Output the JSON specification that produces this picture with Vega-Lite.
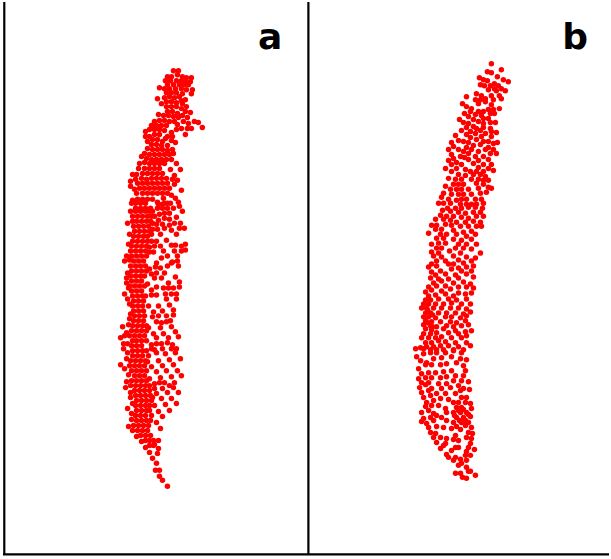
{"$schema":"https://vega.github.io/schema/vega-lite/v6.json","width":611,"height":559,"padding":0,"autosize":{"type":"fit","contains":"padding"},"background":"white","config":{"view":{"stroke":null}},
"datasets":{
"frame":[{"x":4.3,"x2":4.3,"y":0,"y2":555},{"x":309.4,"x2":309.4,"y":0,"y2":555},{"x":3,"x2":611,"y":554.4,"y2":554.4}],
"labels":[{"x":271,"y":47,"t":"a"},{"x":577,"y":47.5,"t":"b"}],
"panelA":[
{"x":174,"y":69},{"x":179,"y":69},{"x":178,"y":73},{"x":168,"y":75},{"x":172,"y":75},{"x":183,"y":75},{"x":187,"y":76},{"x":192,"y":76},{"x":166,"y":79},{"x":171,"y":79},{"x":177,"y":79},{"x":182,"y":79},{"x":186,"y":80},{"x":191,"y":80},{"x":168,"y":83},{"x":174,"y":83},{"x":180,"y":83},{"x":185,"y":83},{"x":189,"y":83},{"x":160,"y":86},{"x":165,"y":87},{"x":170,"y":87},{"x":176,"y":87},{"x":182,"y":87},{"x":187,"y":88},{"x":193,"y":88},{"x":167,"y":91},{"x":172,"y":91},{"x":177,"y":91},{"x":183,"y":92},{"x":192,"y":92},{"x":158,"y":97},{"x":165,"y":96},{"x":170,"y":95},{"x":175,"y":96},{"x":180,"y":95},{"x":186,"y":98},{"x":182,"y":99},{"x":162,"y":102},{"x":167,"y":100},{"x":172,"y":100},{"x":177,"y":101},{"x":183,"y":102},{"x":187,"y":105},{"x":167,"y":105},{"x":172,"y":105},{"x":177,"y":105},{"x":182,"y":107},{"x":191,"y":111},{"x":186,"y":110},{"x":168,"y":110},{"x":173,"y":110},{"x":178,"y":112},{"x":183,"y":114},{"x":159,"y":113},{"x":164,"y":114},{"x":169,"y":114},{"x":174,"y":115},{"x":179,"y":116},{"x":188,"y":116},{"x":195,"y":120},{"x":199,"y":121},{"x":203,"y":126},{"x":184,"y":120},{"x":155,"y":120},{"x":160,"y":119},{"x":165,"y":119},{"x":170,"y":120},{"x":175,"y":120},{"x":189,"y":122},{"x":178,"y":123},{"x":152,"y":124},{"x":157,"y":124},{"x":162,"y":124},{"x":167,"y":124},{"x":182,"y":127},{"x":188,"y":127},{"x":192,"y":127},{"x":177,"y":128},{"x":150,"y":128},{"x":155,"y":128},{"x":160,"y":128},{"x":165,"y":129},{"x":172,"y":131},{"x":146,"y":130},{"x":186,"y":133},{"x":146,"y":135},{"x":150,"y":135},{"x":155,"y":133},{"x":160,"y":133},{"x":168,"y":135},{"x":173,"y":135},{"x":148,"y":140},{"x":153,"y":138},{"x":158,"y":138},{"x":163,"y":140},{"x":166,"y":137},{"x":172,"y":139},{"x":176,"y":141},{"x":152,"y":143},{"x":157,"y":143},{"x":162,"y":144},{"x":168,"y":144},{"x":148,"y":147},{"x":153,"y":148},{"x":158,"y":148},{"x":163,"y":148},{"x":168,"y":149},{"x":173,"y":148},{"x":145,"y":152},{"x":150,"y":153},{"x":155,"y":153},{"x":160,"y":153},{"x":165,"y":153},{"x":170,"y":153},{"x":174,"y":152},{"x":142,"y":155},{"x":147,"y":157},{"x":152,"y":158},{"x":157,"y":158},{"x":162,"y":158},{"x":167,"y":158},{"x":172,"y":158},{"x":140,"y":162},{"x":145,"y":161},{"x":150,"y":162},{"x":155,"y":162},{"x":160,"y":162},{"x":165,"y":162},{"x":177,"y":162},{"x":139,"y":167},{"x":145,"y":167},{"x":150,"y":167},{"x":155,"y":167},{"x":160,"y":167},{"x":181,"y":168},{"x":171,"y":168},{"x":133,"y":173},{"x":137,"y":173},{"x":143,"y":172},{"x":148,"y":172},{"x":153,"y":172},{"x":158,"y":172},{"x":163,"y":172},{"x":175,"y":174},{"x":136,"y":178},{"x":142,"y":177},{"x":147,"y":178},{"x":152,"y":177},{"x":157,"y":177},{"x":162,"y":177},{"x":167,"y":177},{"x":173,"y":178},{"x":178,"y":179},{"x":131,"y":180},{"x":138,"y":182},{"x":143,"y":182},{"x":148,"y":182},{"x":153,"y":182},{"x":158,"y":182},{"x":163,"y":182},{"x":168,"y":182},{"x":175,"y":183},{"x":131,"y":185},{"x":135,"y":188},{"x":140,"y":187},{"x":145,"y":187},{"x":150,"y":187},{"x":155,"y":187},{"x":160,"y":187},{"x":165,"y":187},{"x":170,"y":187},{"x":182,"y":189},{"x":137,"y":192},{"x":143,"y":192},{"x":148,"y":192},{"x":153,"y":192},{"x":158,"y":192},{"x":163,"y":192},{"x":168,"y":192},{"x":172,"y":194},{"x":133,"y":199},{"x":138,"y":198},{"x":143,"y":198},{"x":148,"y":198},{"x":153,"y":198},{"x":164,"y":197},{"x":176,"y":197},{"x":158,"y":201},{"x":168,"y":202},{"x":179,"y":201},{"x":136,"y":202},{"x":141,"y":202},{"x":146,"y":202},{"x":163,"y":203},
{"x":159,"y":203},{"x":165,"y":202},{"x":171,"y":202},{"x":153,"y":210},{"x":158,"y":207},{"x":163,"y":207},{"x":168,"y":207},{"x":174,"y":207},{"x":180,"y":205},{"x":183,"y":210},{"x":155,"y":215},{"x":160,"y":213},{"x":165,"y":212},{"x":170,"y":212},{"x":177,"y":216},{"x":159,"y":219},{"x":165,"y":217},{"x":170,"y":218},{"x":181,"y":222},{"x":153,"y":222},{"x":157,"y":223},{"x":163,"y":223},{"x":175,"y":222},{"x":185,"y":227},{"x":153,"y":228},{"x":158,"y":228},{"x":165,"y":227},{"x":170,"y":224},{"x":180,"y":227},{"x":152,"y":233},{"x":161,"y":233},{"x":172,"y":229},{"x":177,"y":233},{"x":157,"y":240},{"x":167,"y":239},{"x":150,"y":246},{"x":161,"y":245},{"x":155,"y":245},{"x":172,"y":244},{"x":176,"y":244},{"x":186,"y":243},{"x":182,"y":245},{"x":150,"y":251},{"x":154,"y":251},{"x":164,"y":250},{"x":175,"y":250},{"x":186,"y":249},{"x":182,"y":250},{"x":168,"y":255},{"x":178,"y":255},{"x":157,"y":262},{"x":172,"y":262},{"x":162,"y":257},{"x":178,"y":260},{"x":179,"y":265},{"x":150,"y":268},{"x":156,"y":266},{"x":161,"y":267},{"x":168,"y":265},{"x":173,"y":261},{"x":165,"y":272},{"x":157,"y":272},{"x":152,"y":273},{"x":176,"y":276},{"x":148,"y":283},{"x":162,"y":277},{"x":155,"y":277},{"x":180,"y":281},{"x":169,"y":282},{"x":180,"y":286},{"x":152,"y":289},{"x":157,"y":286},{"x":164,"y":287},{"x":174,"y":287},{"x":169,"y":287},{"x":152,"y":294},{"x":157,"y":294},{"x":166,"y":293},{"x":172,"y":293},{"x":177,"y":293},{"x":177,"y":298},{"x":146,"y":295},{"x":167,"y":298},{"x":149,"y":305},{"x":159,"y":305},{"x":170,"y":304},{"x":154,"y":311},{"x":163,"y":310},{"x":174,"y":309},{"x":174,"y":314},{"x":153,"y":316},{"x":159,"y":315},{"x":167,"y":315},{"x":157,"y":321},{"x":162,"y":322},{"x":171,"y":320},{"x":167,"y":321},{"x":149,"y":327},{"x":161,"y":327},{"x":172,"y":326},{"x":176,"y":331},{"x":154,"y":333},{"x":164,"y":333},{"x":179,"y":336},{"x":169,"y":337},{"x":157,"y":337},{"x":162,"y":343},{"x":152,"y":344},{"x":168,"y":342},{"x":157,"y":343},{"x":173,"y":344},
{"x":132,"y":202},{"x":131,"y":210},{"x":128,"y":222},{"x":133,"y":220},{"x":130,"y":233},{"x":129,"y":243},{"x":127,"y":255},{"x":125,"y":260},{"x":130,"y":259},{"x":128,"y":272},{"x":127,"y":277},{"x":127,"y":282},{"x":125,"y":293},{"x":129,"y":287},{"x":128,"y":298},{"x":130,"y":303},{"x":131,"y":313},{"x":130,"y":318},{"x":129,"y":324},{"x":123,"y":326},{"x":127,"y":332},{"x":121,"y":337},{"x":125,"y":335},{"x":124,"y":343},{"x":124,"y":348},{"x":128,"y":343},{"x":133,"y":340},
{"x":136,"y":207},{"x":141,"y":207},{"x":146,"y":207},{"x":151,"y":207},{"x":136,"y":210},{"x":141,"y":210},{"x":146,"y":210},{"x":150,"y":210},{"x":133,"y":215},{"x":138,"y":215},{"x":143,"y":215},{"x":148,"y":215},{"x":152,"y":215},{"x":137,"y":220},{"x":142,"y":220},{"x":147,"y":220},{"x":151,"y":220},{"x":134,"y":225},{"x":139,"y":225},{"x":144,"y":225},{"x":149,"y":225},{"x":135,"y":230},{"x":140,"y":230},{"x":145,"y":230},{"x":150,"y":230},{"x":134,"y":235},{"x":139,"y":235},{"x":144,"y":235},{"x":148,"y":235},{"x":133,"y":240},{"x":138,"y":240},{"x":143,"y":240},{"x":148,"y":240},{"x":152,"y":240},{"x":132,"y":245},{"x":137,"y":245},{"x":142,"y":245},{"x":147,"y":245},{"x":131,"y":250},{"x":136,"y":250},{"x":141,"y":250},{"x":146,"y":250},{"x":132,"y":255},{"x":137,"y":255},{"x":142,"y":255},{"x":147,"y":255},{"x":134,"y":260},{"x":139,"y":260},{"x":144,"y":260},{"x":131,"y":265},{"x":136,"y":265},{"x":141,"y":265},{"x":146,"y":265},{"x":132,"y":270},{"x":137,"y":270},{"x":142,"y":270},{"x":147,"y":270},{"x":131,"y":275},{"x":136,"y":275},{"x":141,"y":275},{"x":145,"y":275},{"x":132,"y":280},{"x":137,"y":280},{"x":142,"y":280},{"x":130,"y":285},{"x":135,"y":285},{"x":140,"y":285},{"x":145,"y":285},{"x":132,"y":290},{"x":137,"y":290},{"x":142,"y":290},{"x":133,"y":295},{"x":138,"y":295},{"x":143,"y":295},{"x":134,"y":300},{"x":139,"y":300},{"x":144,"y":300},{"x":133,"y":305},{"x":138,"y":305},{"x":143,"y":305},{"x":134,"y":310},{"x":139,"y":310},{"x":144,"y":310},{"x":135,"y":315},{"x":140,"y":315},{"x":145,"y":315},{"x":134,"y":320},{"x":139,"y":320},{"x":144,"y":320},{"x":133,"y":325},{"x":138,"y":325},{"x":143,"y":325},{"x":147,"y":325},{"x":132,"y":330},{"x":137,"y":330},{"x":142,"y":330},{"x":147,"y":330},{"x":130,"y":335},{"x":135,"y":335},{"x":140,"y":335},{"x":145,"y":335},{"x":137,"y":340},{"x":142,"y":340},{"x":147,"y":340},{"x":132,"y":345},{"x":137,"y":345},{"x":142,"y":345},{"x":133,"y":350},{"x":138,"y":350},{"x":143,"y":350},{"x":147,"y":350},{"x":133,"y":355},{"x":138,"y":355},{"x":143,"y":355},{"x":131,"y":360},{"x":136,"y":360},{"x":141,"y":360},{"x":146,"y":360},{"x":130,"y":365},{"x":135,"y":365},{"x":140,"y":365},{"x":145,"y":365},{"x":132,"y":370},{"x":137,"y":370},{"x":142,"y":370},{"x":147,"y":370},{"x":135,"y":375},{"x":140,"y":375},{"x":145,"y":375},{"x":132,"y":380},{"x":137,"y":380},{"x":142,"y":380},{"x":147,"y":380},{"x":131,"y":385},{"x":136,"y":385},{"x":141,"y":385},{"x":146,"y":385},{"x":150,"y":385},{"x":135,"y":390},{"x":140,"y":390},{"x":145,"y":390},{"x":150,"y":390},{"x":136,"y":395},{"x":141,"y":395},{"x":146,"y":395},{"x":151,"y":395},{"x":137,"y":400},{"x":142,"y":400},{"x":147,"y":400},{"x":152,"y":400},{"x":136,"y":405},{"x":141,"y":405},{"x":146,"y":405},{"x":150,"y":405},{"x":137,"y":410},{"x":142,"y":410},{"x":147,"y":410},{"x":136,"y":415},{"x":141,"y":415},{"x":146,"y":415},{"x":137,"y":420},{"x":142,"y":420},{"x":147,"y":420},{"x":134,"y":425},{"x":139,"y":425},{"x":144,"y":425},{"x":149,"y":425},{"x":138,"y":430},{"x":143,"y":430},{"x":148,"y":430},{"x":141,"y":435},{"x":146,"y":435},{"x":151,"y":435},{"x":146,"y":440},{"x":150,"y":440},{"x":154,"y":440},{"x":150,"y":445},{"x":154,"y":445},
{"x":152,"y":348},{"x":155,"y":349},{"x":163,"y":348},{"x":172,"y":348},{"x":177,"y":348},{"x":157,"y":352},{"x":166,"y":353},{"x":176,"y":352},{"x":149,"y":355},{"x":181,"y":358},{"x":148,"y":361},{"x":159,"y":360},{"x":170,"y":359},{"x":163,"y":365},{"x":174,"y":364},{"x":152,"y":366},{"x":157,"y":371},{"x":167,"y":370},{"x":178,"y":370},{"x":161,"y":377},{"x":172,"y":376},{"x":182,"y":375},{"x":150,"y":378},{"x":160,"y":382},{"x":165,"y":382},{"x":175,"y":382},{"x":155,"y":383},{"x":170,"y":385},{"x":155,"y":388},{"x":163,"y":388},{"x":174,"y":387},{"x":157,"y":393},{"x":168,"y":392},{"x":179,"y":392},{"x":153,"y":397},{"x":162,"y":398},{"x":172,"y":398},{"x":177,"y":403},{"x":166,"y":404},{"x":155,"y":405},{"x":170,"y":410},{"x":159,"y":411},{"x":150,"y":410},{"x":163,"y":416},{"x":152,"y":415},{"x":157,"y":422},{"x":161,"y":428},{"x":151,"y":420},
{"x":128,"y":352},{"x":127,"y":358},{"x":121,"y":364},{"x":125,"y":368},{"x":129,"y":374},{"x":127,"y":381},{"x":126,"y":387},{"x":131,"y":392},{"x":131,"y":397},{"x":133,"y":403},{"x":128,"y":408},{"x":132,"y":413},{"x":132,"y":419},{"x":129,"y":426},{"x":133,"y":430},{"x":137,"y":436},{"x":142,"y":441},{"x":146,"y":447},{"x":150,"y":452},{"x":153,"y":458},{"x":157,"y":463},{"x":156,"y":470},{"x":160,"y":470},{"x":160,"y":476},{"x":163,"y":480},{"x":168,"y":486},{"x":159,"y":440},{"x":155,"y":444},{"x":159,"y":448},{"x":158,"y":453}
],
"panelB":[
{"x":493,"y":62},{"x":503,"y":68},{"x":489,"y":70},{"x":493,"y":71},{"x":499,"y":75},{"x":481,"y":76},{"x":485,"y":78},{"x":489,"y":79},{"x":505,"y":78},{"x":510,"y":80},{"x":482,"y":83},{"x":486,"y":84},{"x":492,"y":84},{"x":496,"y":82},{"x":500,"y":84},{"x":490,"y":88},{"x":496,"y":87},{"x":503,"y":87},{"x":507,"y":89},{"x":478,"y":92},{"x":498,"y":89},{"x":468,"y":95},{"x":483,"y":94},{"x":487,"y":97},{"x":493,"y":94},{"x":501,"y":94},{"x":477,"y":98},{"x":482,"y":98},{"x":487,"y":100},{"x":495,"y":98},{"x":503,"y":97},{"x":464,"y":102},{"x":480,"y":102},{"x":468,"y":105},{"x":473,"y":107},{"x":493,"y":103},{"x":501,"y":107},{"x":472,"y":110},{"x":480,"y":110},{"x":485,"y":110},{"x":490,"y":108},{"x":495,"y":108},{"x":466,"y":112},{"x":477,"y":113},{"x":483,"y":114},{"x":492,"y":112},{"x":496,"y":112},{"x":461,"y":118},{"x":470,"y":115},{"x":475,"y":118},{"x":485,"y":117},{"x":490,"y":117},{"x":465,"y":121},{"x":470,"y":122},{"x":480,"y":120},{"x":485,"y":122},{"x":492,"y":121},{"x":497,"y":121},{"x":468,"y":126},{"x":475,"y":125},{"x":478,"y":127},{"x":485,"y":126},{"x":463,"y":129},{"x":472,"y":130},{"x":482,"y":129},{"x":492,"y":127},{"x":493,"y":130},{"x":498,"y":131},{"x":457,"y":134},{"x":468,"y":133},{"x":477,"y":132},{"x":487,"y":132},{"x":483,"y":135},{"x":493,"y":135},{"x":499,"y":141},{"x":472,"y":136},{"x":490,"y":140},{"x":453,"y":141},{"x":460,"y":139},{"x":465,"y":140},{"x":470,"y":141},{"x":478,"y":138},{"x":485,"y":140},{"x":495,"y":142},{"x":455,"y":145},{"x":468,"y":146},{"x":475,"y":144},{"x":482,"y":143},{"x":490,"y":146},{"x":450,"y":148},{"x":460,"y":148},{"x":465,"y":150},{"x":473,"y":148},{"x":487,"y":148},{"x":495,"y":148},{"x":498,"y":152},{"x":453,"y":153},{"x":470,"y":152},{"x":480,"y":150},{"x":492,"y":152},{"x":455,"y":157},{"x":462,"y":155},{"x":466,"y":156},{"x":477,"y":155},{"x":485,"y":155},{"x":450,"y":159},{"x":458,"y":161},{"x":470,"y":158},{"x":480,"y":159},{"x":490,"y":158},{"x":453,"y":163},{"x":463,"y":163},{"x":475,"y":162},{"x":485,"y":163},{"x":493,"y":163},{"x":447,"y":167},{"x":458,"y":167},{"x":467,"y":168},{"x":480,"y":166},{"x":490,"y":167},{"x":453,"y":170},{"x":472,"y":170},{"x":478,"y":170},{"x":485,"y":170},{"x":495,"y":169},{"x":460,"y":173},{"x":467,"y":174},{"x":475,"y":173},{"x":482,"y":173},{"x":487,"y":175},{"x":450,"y":177},{"x":457,"y":178},{"x":463,"y":178},{"x":473,"y":178},{"x":480,"y":178},{"x":485,"y":179},{"x":490,"y":179},{"x":447,"y":185},{"x":455,"y":183},{"x":460,"y":183},{"x":465,"y":183},{"x":478,"y":182},{"x":485,"y":183},{"x":490,"y":186},{"x":493,"y":187},{"x":445,"y":192},{"x":452,"y":188},{"x":458,"y":188},{"x":463,"y":188},{"x":470,"y":188},{"x":480,"y":187},{"x":443,"y":196},{"x":453,"y":193},{"x":460,"y":193},{"x":465,"y":193},{"x":473,"y":193},{"x":482,"y":192},{"x":488,"y":191},{"x":450,"y":198},{"x":440,"y":202},{"x":445,"y":202},{"x":452,"y":202},{"x":458,"y":199},{"x":463,"y":198},{"x":468,"y":198},{"x":477,"y":198},{"x":483,"y":198},{"x":462,"y":203},{"x":468,"y":203},{"x":473,"y":203},{"x":478,"y":203},{"x":485,"y":202},
{"x":449,"y":207},{"x":457,"y":207},{"x":463,"y":207},{"x":470,"y":206},{"x":477,"y":206},{"x":484,"y":207},{"x":444,"y":209},{"x":452,"y":210},{"x":460,"y":211},{"x":467,"y":212},{"x":475,"y":211},{"x":482,"y":211},{"x":442,"y":214},{"x":448,"y":215},{"x":455,"y":215},{"x":463,"y":216},{"x":470,"y":217},{"x":478,"y":215},{"x":485,"y":215},{"x":437,"y":218},{"x":445,"y":218},{"x":452,"y":219},{"x":458,"y":221},{"x":467,"y":221},{"x":475,"y":220},{"x":482,"y":221},{"x":433,"y":224},{"x":438,"y":224},{"x":447,"y":223},{"x":453,"y":224},{"x":462,"y":225},{"x":470,"y":225},{"x":478,"y":225},{"x":483,"y":225},{"x":437,"y":228},{"x":443,"y":228},{"x":455,"y":229},{"x":465,"y":231},{"x":473,"y":230},{"x":430,"y":232},{"x":442,"y":233},{"x":448,"y":233},{"x":458,"y":233},{"x":468,"y":235},{"x":477,"y":233},{"x":438,"y":237},{"x":445,"y":237},{"x":455,"y":238},{"x":463,"y":239},{"x":473,"y":238},{"x":433,"y":243},{"x":440,"y":242},{"x":447,"y":242},{"x":460,"y":243},{"x":468,"y":243},{"x":478,"y":243},{"x":438,"y":247},{"x":443,"y":247},{"x":457,"y":247},{"x":465,"y":247},{"x":473,"y":248},{"x":433,"y":251},{"x":440,"y":252},{"x":451,"y":250},{"x":462,"y":252},{"x":482,"y":252},{"x":435,"y":255},{"x":443,"y":256},{"x":455,"y":255},{"x":468,"y":256},{"x":477,"y":257},{"x":438,"y":260},{"x":447,"y":260},{"x":460,"y":259},{"x":465,"y":262},{"x":473,"y":260},{"x":433,"y":263},{"x":450,"y":263},{"x":455,"y":263},{"x":430,"y":266},{"x":438,"y":265},{"x":460,"y":267},{"x":468,"y":266},{"x":475,"y":265},{"x":433,"y":271},{"x":442,"y":270},{"x":453,"y":268},{"x":463,"y":270},{"x":473,"y":270},{"x":437,"y":274},{"x":447,"y":273},{"x":457,"y":274},{"x":468,"y":273},{"x":432,"y":277},{"x":440,"y":278},{"x":450,"y":278},{"x":460,"y":277},{"x":475,"y":276},{"x":435,"y":282},{"x":443,"y":280},{"x":455,"y":282},{"x":465,"y":281},{"x":472,"y":283},{"x":430,"y":286},{"x":438,"y":285},{"x":447,"y":285},{"x":460,"y":286},{"x":468,"y":286},{"x":475,"y":287},{"x":427,"y":291},{"x":433,"y":289},{"x":443,"y":290},{"x":452,"y":288},{"x":460,"y":292},{"x":473,"y":292},{"x":430,"y":295},{"x":437,"y":294},{"x":447,"y":293},{"x":455,"y":295},{"x":467,"y":293},{"x":427,"y":299},{"x":432,"y":299},{"x":440,"y":298},{"x":450,"y":298},{"x":458,"y":299},{"x":468,"y":298},{"x":425,"y":303},{"x":430,"y":303},{"x":437,"y":303},{"x":445,"y":303},{"x":453,"y":302},{"x":463,"y":303},{"x":472,"y":303},{"x":423,"y":307},{"x":428,"y":307},{"x":435,"y":307},{"x":443,"y":307},{"x":452,"y":307},{"x":460,"y":307},{"x":468,"y":308},{"x":427,"y":312},{"x":432,"y":312},{"x":440,"y":312},{"x":448,"y":312},{"x":457,"y":312},{"x":465,"y":313},{"x":472,"y":311},{"x":425,"y":316},{"x":430,"y":316},{"x":437,"y":317},{"x":447,"y":316},{"x":453,"y":316},{"x":462,"y":317},{"x":468,"y":315},{"x":427,"y":320},{"x":433,"y":321},{"x":442,"y":321},{"x":452,"y":321},{"x":458,"y":322},{"x":467,"y":320},{"x":425,"y":324},{"x":432,"y":325},{"x":438,"y":326},{"x":448,"y":325},{"x":455,"y":326},{"x":463,"y":325},{"x":470,"y":324},{"x":427,"y":328},{"x":433,"y":329},{"x":445,"y":328},{"x":457,"y":330},{"x":467,"y":331},{"x":473,"y":330},{"x":425,"y":333},{"x":432,"y":333},{"x":438,"y":332},{"x":450,"y":332},{"x":460,"y":333},{"x":468,"y":335},{"x":423,"y":337},{"x":430,"y":337},{"x":437,"y":337},{"x":443,"y":336},{"x":453,"y":337},{"x":463,"y":337},{"x":427,"y":342},{"x":433,"y":342},{"x":440,"y":340},{"x":447,"y":341},{"x":457,"y":342},{"x":468,"y":342},{"x":417,"y":348},{"x":422,"y":347},{"x":428,"y":346},{"x":435,"y":346},{"x":442,"y":345},{"x":450,"y":345},{"x":460,"y":346},{"x":472,"y":345},{"x":425,"y":348},{"x":432,"y":349},{"x":438,"y":349},{"x":445,"y":349},{"x":455,"y":349},{"x":465,"y":349},
{"x":418,"y":356},{"x":425,"y":353},{"x":432,"y":352},{"x":438,"y":352},{"x":447,"y":352},{"x":455,"y":350},{"x":463,"y":352},{"x":422,"y":360},{"x":428,"y":362},{"x":435,"y":358},{"x":443,"y":357},{"x":453,"y":356},{"x":462,"y":358},{"x":468,"y":359},{"x":420,"y":368},{"x":427,"y":364},{"x":433,"y":364},{"x":442,"y":364},{"x":448,"y":363},{"x":458,"y":362},{"x":465,"y":365},{"x":423,"y":373},{"x":430,"y":372},{"x":437,"y":372},{"x":445,"y":371},{"x":453,"y":370},{"x":467,"y":370},{"x":420,"y":378},{"x":427,"y":377},{"x":433,"y":377},{"x":442,"y":377},{"x":448,"y":376},{"x":457,"y":375},{"x":465,"y":375},{"x":423,"y":382},{"x":430,"y":382},{"x":440,"y":383},{"x":448,"y":383},{"x":455,"y":380},{"x":463,"y":380},{"x":470,"y":381},{"x":421,"y":387},{"x":427,"y":384},{"x":433,"y":388},{"x":443,"y":388},{"x":452,"y":387},{"x":460,"y":385},{"x":465,"y":388},{"x":471,"y":389},{"x":423,"y":392},{"x":430,"y":390},{"x":438,"y":393},{"x":447,"y":393},{"x":457,"y":393},{"x":462,"y":390},{"x":425,"y":397},{"x":432,"y":395},{"x":442,"y":398},{"x":450,"y":399},{"x":463,"y":397},{"x":468,"y":397},{"x":428,"y":402},{"x":435,"y":400},{"x":440,"y":405},{"x":455,"y":402},{"x":460,"y":402},{"x":467,"y":402},{"x":472,"y":403},{"x":427,"y":406},{"x":433,"y":405},{"x":447,"y":408},{"x":458,"y":407},{"x":463,"y":407},{"x":473,"y":408},{"x":423,"y":412},{"x":430,"y":410},{"x":435,"y":413},{"x":448,"y":412},{"x":455,"y":412},{"x":462,"y":412},{"x":468,"y":412},{"x":425,"y":418},{"x":432,"y":417},{"x":438,"y":415},{"x":443,"y":417},{"x":458,"y":417},{"x":465,"y":417},{"x":472,"y":416},{"x":423,"y":421},{"x":428,"y":423},{"x":435,"y":420},{"x":448,"y":420},{"x":455,"y":422},{"x":463,"y":422},{"x":470,"y":422},{"x":430,"y":427},{"x":438,"y":426},{"x":445,"y":427},{"x":458,"y":426},{"x":467,"y":425},{"x":473,"y":427},{"x":432,"y":432},{"x":437,"y":433},{"x":453,"y":428},{"x":462,"y":429},{"x":470,"y":432},{"x":474,"y":433},{"x":435,"y":437},{"x":442,"y":437},{"x":448,"y":438},{"x":457,"y":435},{"x":468,"y":437},{"x":473,"y":438},{"x":438,"y":442},{"x":447,"y":443},{"x":455,"y":439},{"x":460,"y":440},{"x":472,"y":443},{"x":442,"y":448},{"x":445,"y":445},{"x":457,"y":447},{"x":470,"y":447},{"x":476,"y":449},{"x":448,"y":454},{"x":453,"y":450},{"x":460,"y":447},{"x":468,"y":451},{"x":450,"y":457},{"x":457,"y":457},{"x":467,"y":455},{"x":472,"y":455},{"x":455,"y":460},{"x":462,"y":459},{"x":468,"y":460},{"x":460,"y":465},{"x":463,"y":463},{"x":468,"y":467},{"x":470,"y":471},{"x":472,"y":471},{"x":457,"y":473},{"x":462,"y":473},{"x":464,"y":477},{"x":468,"y":478},{"x":477,"y":475},
{"x":460,"y":410},{"x":465,"y":409},{"x":470,"y":414},{"x":456,"y":415},{"x":461,"y":420},{"x":467,"y":420},{"x":429,"y":309},{"x":434,"y":314},{"x":429,"y":322},{"x":434,"y":326}
]},
"layer":[
{"data":{"name":"panelA"},"mark":{"type":"point","filled":true,"shape":"circle","color":"#ff0000","opacity":1,"size":30},"encoding":{"x":{"field":"x","type":"quantitative","scale":{"domain":[0,611],"nice":false,"zero":false},"axis":null},"y":{"field":"y","type":"quantitative","scale":{"domain":[559,0],"nice":false,"zero":false},"axis":null}}},
{"data":{"name":"panelB"},"mark":{"type":"point","filled":true,"shape":"circle","color":"#ff0000","opacity":1,"size":30},"encoding":{"x":{"field":"x","type":"quantitative","axis":null},"y":{"field":"y","type":"quantitative","axis":null}}},
{"data":{"name":"frame"},"mark":{"type":"rule","color":"#000000","strokeWidth":2.2},"encoding":{"x":{"field":"x","type":"quantitative","axis":null},"x2":{"field":"x2"},"y":{"field":"y","type":"quantitative","axis":null},"y2":{"field":"y2"}}},
{"data":{"name":"labels"},"mark":{"type":"text","font":"DejaVu Sans","fontWeight":"bold","fontSize":36,"color":"#000000","align":"center","baseline":"alphabetic"},"encoding":{"x":{"field":"x","type":"quantitative","axis":null},"y":{"field":"y","type":"quantitative","axis":null},"text":{"field":"t","type":"nominal"}}}
]}
